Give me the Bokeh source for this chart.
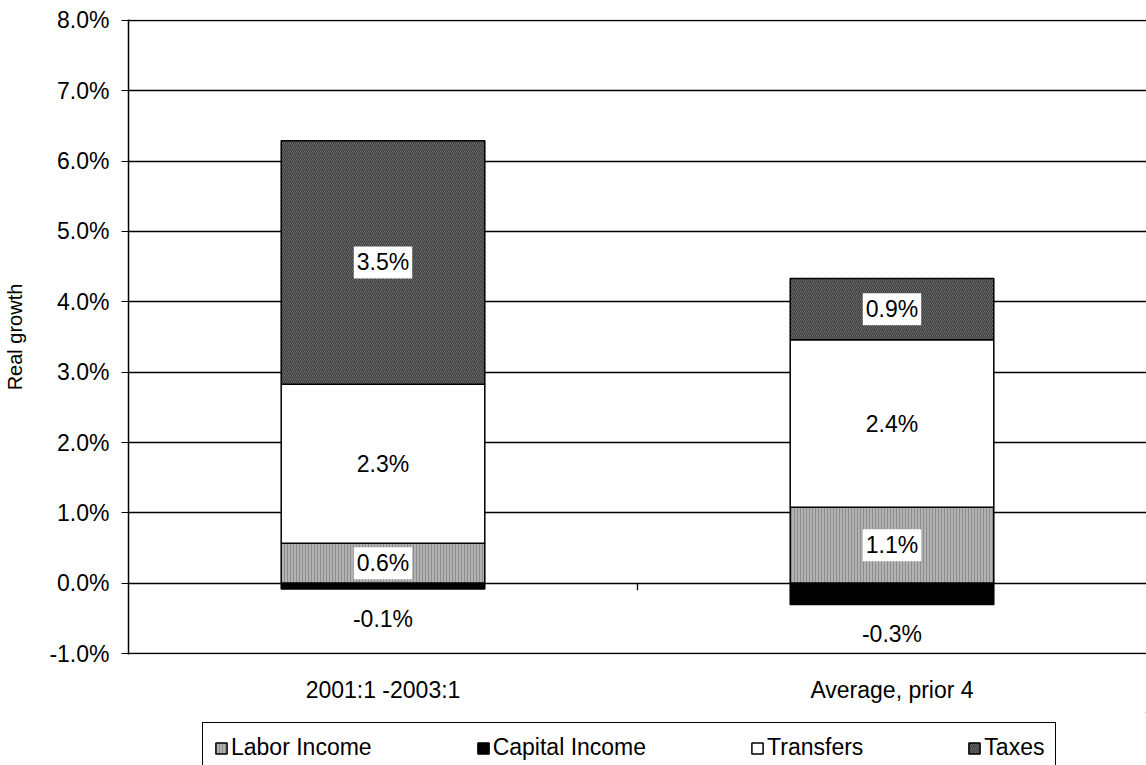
import numpy as np
from bokeh.plotting import figure
from bokeh.layouts import column
from bokeh.models import (ColumnDataSource, Range1d, FixedTicker, PrintfTickFormatter,
                          Legend, LegendItem)
from bokeh.transform import dodge
from bokeh.core.properties import value
from bokeh.embed import file_html
from bokeh.resources import INLINE

# Contributions to real growth (percentage points)
categories = ["2001:1 -2003:1", "Average, prior 4"]
labor_income = [0.57, 1.08]
capital_income = [-0.08, -0.30]
transfers = [2.26, 2.38]
taxes = [3.46, 0.87]
y_ticks = [-1, 0, 1, 2, 3, 4, 5, 6, 7, 8]
series_names = ["Labor Income", "Capital Income", "Transfers", "Taxes"]

FONT = "Liberation Sans"
FS = "23px"

# fill styles per component
STYLES = {
    "Labor Income": dict(fill_color="#b2b2b2", hatch_pattern="|", hatch_color="#8c8c8c",
                         hatch_scale=3, hatch_weight=1),
    "Capital Income": dict(fill_color="black"),
    "Transfers": dict(fill_color="white"),
    "Taxes": dict(fill_color="#858585", hatch_pattern="\\", hatch_color="#3c3c3c",
                  hatch_scale=4, hatch_weight=1.3),
}
OUTLINE = dict(line_color="black", line_width=1.5)

labor = np.array(labor_income)
capital = np.array(capital_income)
trans = np.array(transfers)
tax = np.array(taxes)

src = ColumnDataSource(dict(
    cat=categories,
    cap_top=capital,
    lab_top=labor,
    tr_bot=labor,
    tr_top=labor + trans,
    tx_bot=labor + trans,
    tx_top=labor + trans + tax,
    lab_mid=labor / 2,
    tr_mid=labor + trans / 2,
    tx_mid=labor + trans + tax / 2,
    lab_txt=[f"{v:.1f}%" for v in labor],
    tr_txt=[f"{v:.1f}%" for v in trans],
    tx_txt=[f"{v:.1f}%" for v in tax],
    cap_txt=[f"{v:.1f}%" for v in capital],
))

# range padded a hair so the -1% and 8% gridlines are not clipped at the frame edge
p = figure(x_range=categories, y_range=Range1d(-1.012, 8.012),
           width=1146, height=712,
           min_border_left=128, min_border_top=19, min_border_right=0, min_border_bottom=58,
           output_backend="svg", toolbar_location=None)

p.outline_line_color = None
p.background_fill_color = "white"

# y axis
p.yaxis.ticker = FixedTicker(ticks=y_ticks)
p.yaxis.formatter = PrintfTickFormatter(format="%.1f%%")
p.yaxis.axis_line_color = "black"
p.yaxis.axis_line_width = 1.5
p.yaxis.major_tick_line_color = "black"
p.yaxis.major_tick_out = 7
p.yaxis.major_tick_in = 0
p.yaxis.minor_tick_line_color = None
p.yaxis.major_label_standoff = 12
p.yaxis.major_label_text_font = FONT
p.yaxis.major_label_text_font_size = FS
p.yaxis.major_label_text_color = "black"
p.yaxis.axis_label = "Real growth"
p.yaxis.axis_label_text_font = FONT
p.yaxis.axis_label_text_font_size = "20px"
p.yaxis.axis_label_text_font_style = "normal"
p.yaxis.axis_label_text_color = "black"
p.yaxis.axis_label_standoff = 20

# x axis (category labels under the frame)
p.xaxis.axis_line_color = None
p.xaxis.major_tick_line_color = None
p.xaxis.minor_tick_line_color = None
p.xaxis.major_label_standoff = 16
p.xaxis.major_label_text_font = FONT
p.xaxis.major_label_text_font_size = FS
p.xaxis.major_label_text_color = "black"

p.xgrid.grid_line_color = None
p.ygrid.ticker = FixedTicker(ticks=y_ticks)
p.ygrid.grid_line_color = "black"
p.ygrid.grid_line_width = 1.3
p.ygrid.grid_line_alpha = 1.0

# tick mark on the zero line between the two categories
tick_src = ColumnDataSource(dict(c=[categories[0]]))
p.segment(x0=dodge("c", 0.5, range=p.x_range), y0=0,
          x1=dodge("c", 0.5, range=p.x_range), y1=-0.1,
          source=tick_src, line_color="black", line_width=1.3)

W = 0.4
p.vbar(x="cat", bottom=0, top="lab_top", width=W, source=src,
       **STYLES["Labor Income"], **OUTLINE)
p.vbar(x="cat", bottom=0, top="cap_top", width=W, source=src,
       **STYLES["Capital Income"], **OUTLINE)
p.vbar(x="cat", bottom="tr_bot", top="tr_top", width=W, source=src,
       **STYLES["Transfers"], **OUTLINE)
p.vbar(x="cat", bottom="tx_bot", top="tx_top", width=W, source=src,
       **STYLES["Taxes"], **OUTLINE)

# value labels
lab_kw = dict(x="cat", source=src, text_align="center", text_baseline="middle",
              text_font=value(FONT), text_font_size=FS, text_color="black")
boxed = dict(background_fill_color="white", padding=3)
p.text(y="lab_mid", text="lab_txt", **lab_kw, **boxed)
p.text(y="tr_mid", text="tr_txt", **lab_kw)
p.text(y="tx_mid", text="tx_txt", **lab_kw, **boxed)
p.text(y="cap_top", text="cap_txt", y_offset=30, **lab_kw)

# legend strip below the chart; its swatch renderers sit outside the visible range
leg = figure(width=1146, height=58, x_range=Range1d(0, 1), y_range=Range1d(0, 1),
             x_axis_location=None, y_axis_location=None,
             min_border_left=0, min_border_right=0, min_border_top=0, min_border_bottom=0,
             output_backend="svg", toolbar_location=None)
leg.outline_line_color = None
leg.background_fill_color = "white"
leg.grid.grid_line_color = None
items = []
for name in series_names:
    r = leg.vbar(x=[5], bottom=[5], top=[6], width=0.1, **STYLES[name], **OUTLINE)
    items.append(LegendItem(label=name, renderers=[r]))

legend = Legend(items=items, orientation="horizontal", location=(74, -3),
                border_line_color="black", border_line_width=1.2, border_line_alpha=1.0,
                background_fill_color="white", padding=11, spacing=104, margin=0,
                glyph_width=14, glyph_height=14, label_standoff=3,
                label_text_font=FONT, label_text_font_size=FS, label_text_color="black")
leg.add_layout(legend)

layout = column(p, leg, spacing=0)
open("out.html", "w").write(file_html(layout, INLINE))
